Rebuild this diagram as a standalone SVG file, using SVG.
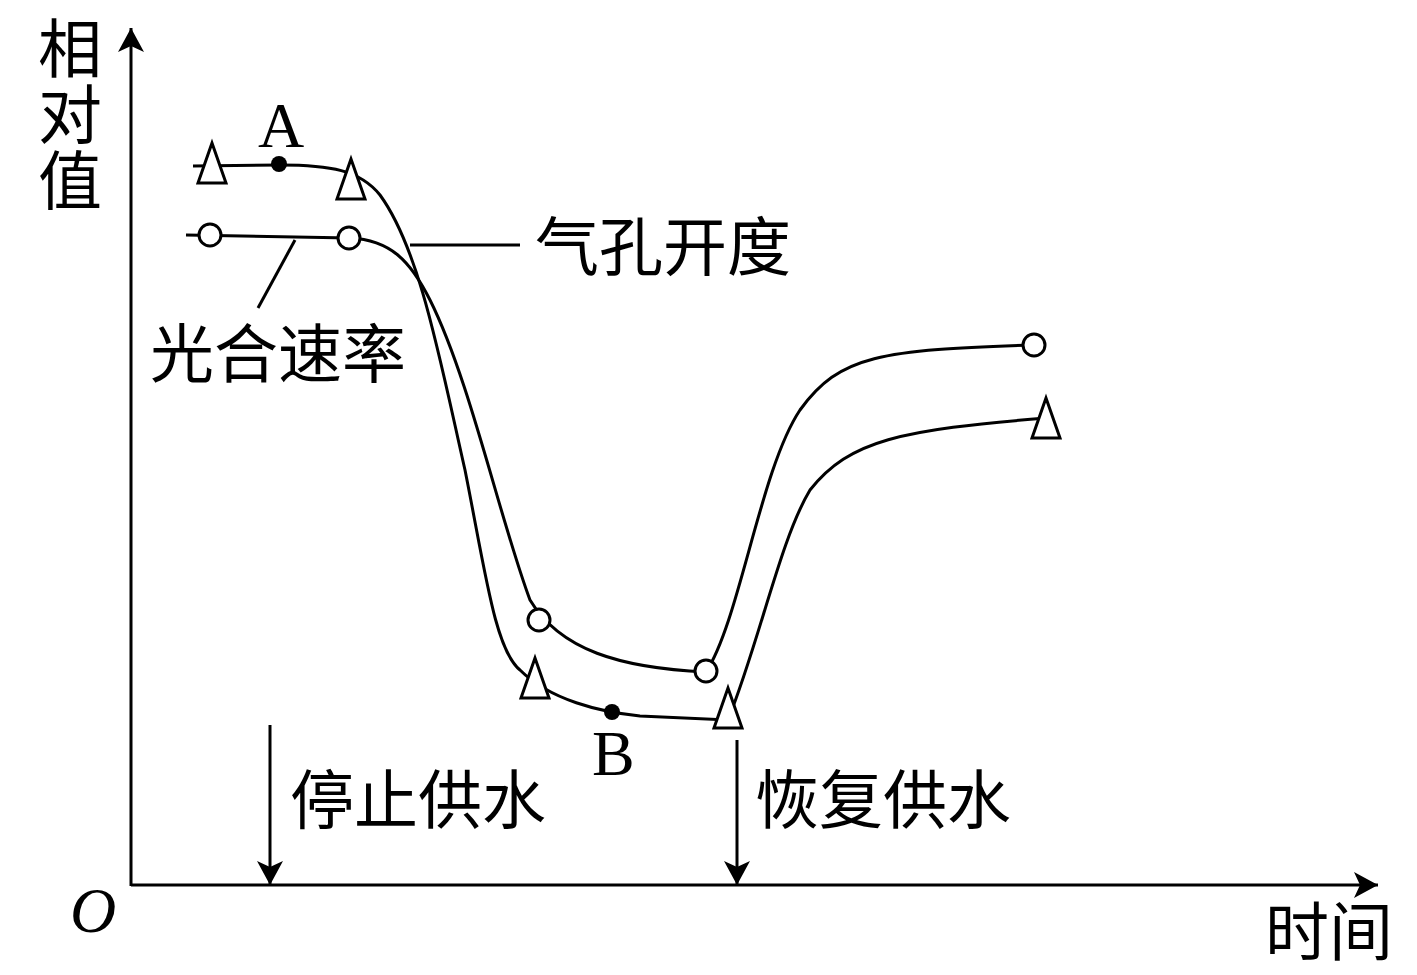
<svg xmlns="http://www.w3.org/2000/svg" width="1417" height="975" viewBox="0 0 1417 975">
<style>
.l{fill:none;stroke:#000;stroke-width:3}
.c{font-family:"Liberation Serif","Noto Sans CJK SC",serif;font-size:64px;fill:#000}
.o{fill:#fff;stroke:#000;stroke-width:3}
</style>
<defs>
<marker id="ar" markerWidth="12" markerHeight="12" refX="10" refY="6" orient="auto" markerUnits="userSpaceOnUse"><path d="M0,0 L12,6 L0,12 L4,6 Z" fill="#000"/></marker>
<marker id="ad" viewBox="0 0 24 30" markerWidth="24" markerHeight="30" refX="24" refY="15" orient="auto" markerUnits="userSpaceOnUse"><path d="M0,2 L24,15 L0,28 L6,15 Z" fill="#000"/></marker>
</defs>
<rect width="1417" height="975" fill="#fff"/>
<g id="axes">
<line class="l" x1="131" y1="886" x2="131" y2="28" marker-end="url(#ad)"/>
<line class="l" x1="131" y1="885" x2="1378" y2="885" marker-end="url(#ad)"/>
</g>
<g id="connectors">
<path class="l" d="M193,166 L280,165 C330,165 360,170 380,195 C420,250 440,360 465,470 C485,570 495,650 520,670 C550,700 600,712 640,716 L728,720 C760,640 780,540 810,490 C850,440 900,430 1046,418"/>
<path class="l" d="M186,235 L350,238 C390,240 410,260 430,300 C470,380 500,520 530,600 C560,650 620,668 706,672 C740,620 760,470 800,410 C840,355 880,350 1034,345"/>
<line class="l" x1="410" y1="245" x2="520" y2="245"/>
<line class="l" x1="258" y1="308" x2="295" y2="240"/>
<line class="l" x1="270" y1="725" x2="270" y2="885" marker-end="url(#ad)"/>
<line class="l" x1="737" y1="740" x2="737" y2="885" marker-end="url(#ad)"/>
</g>
<g id="markers">
<polygon class="o" points="212,143 198,183 226,183"/>
<polygon class="o" points="351,159 337,199 365,199"/>
<polygon class="o" points="535,658 521,698 549,698"/>
<polygon class="o" points="728,688 714,728 742,728"/>
<polygon class="o" points="1046,398 1032,438 1060,438"/>
<circle class="o" cx="210" cy="235" r="11"/>
<circle class="o" cx="349" cy="238" r="11"/>
<circle class="o" cx="539" cy="620" r="11"/>
<circle class="o" cx="706" cy="671" r="11"/>
<circle class="o" cx="1034" cy="345" r="11"/>
<circle cx="279" cy="164" r="8"/>
<circle cx="612" cy="712" r="8"/>
</g>
<g id="labels">
<text class="c" x="38" y="72">相</text>
<text class="c" x="38" y="138">对</text>
<text class="c" x="38" y="204">值</text>
<text class="c" x="535" y="270">气孔开度</text>
<text class="c" x="150" y="377">光合速率</text>
<text class="c" x="290" y="823">停止供水</text>
<text class="c" x="755" y="823">恢复供水</text>
<text class="c" x="1265" y="955">时间</text>
<text class="c" x="258" y="147" font-size="52">A</text>
<text class="c" x="592" y="775" font-size="52">B</text>
<text class="c" x="70" y="932" font-size="52" font-style="italic">O</text>
</g>
</svg>
